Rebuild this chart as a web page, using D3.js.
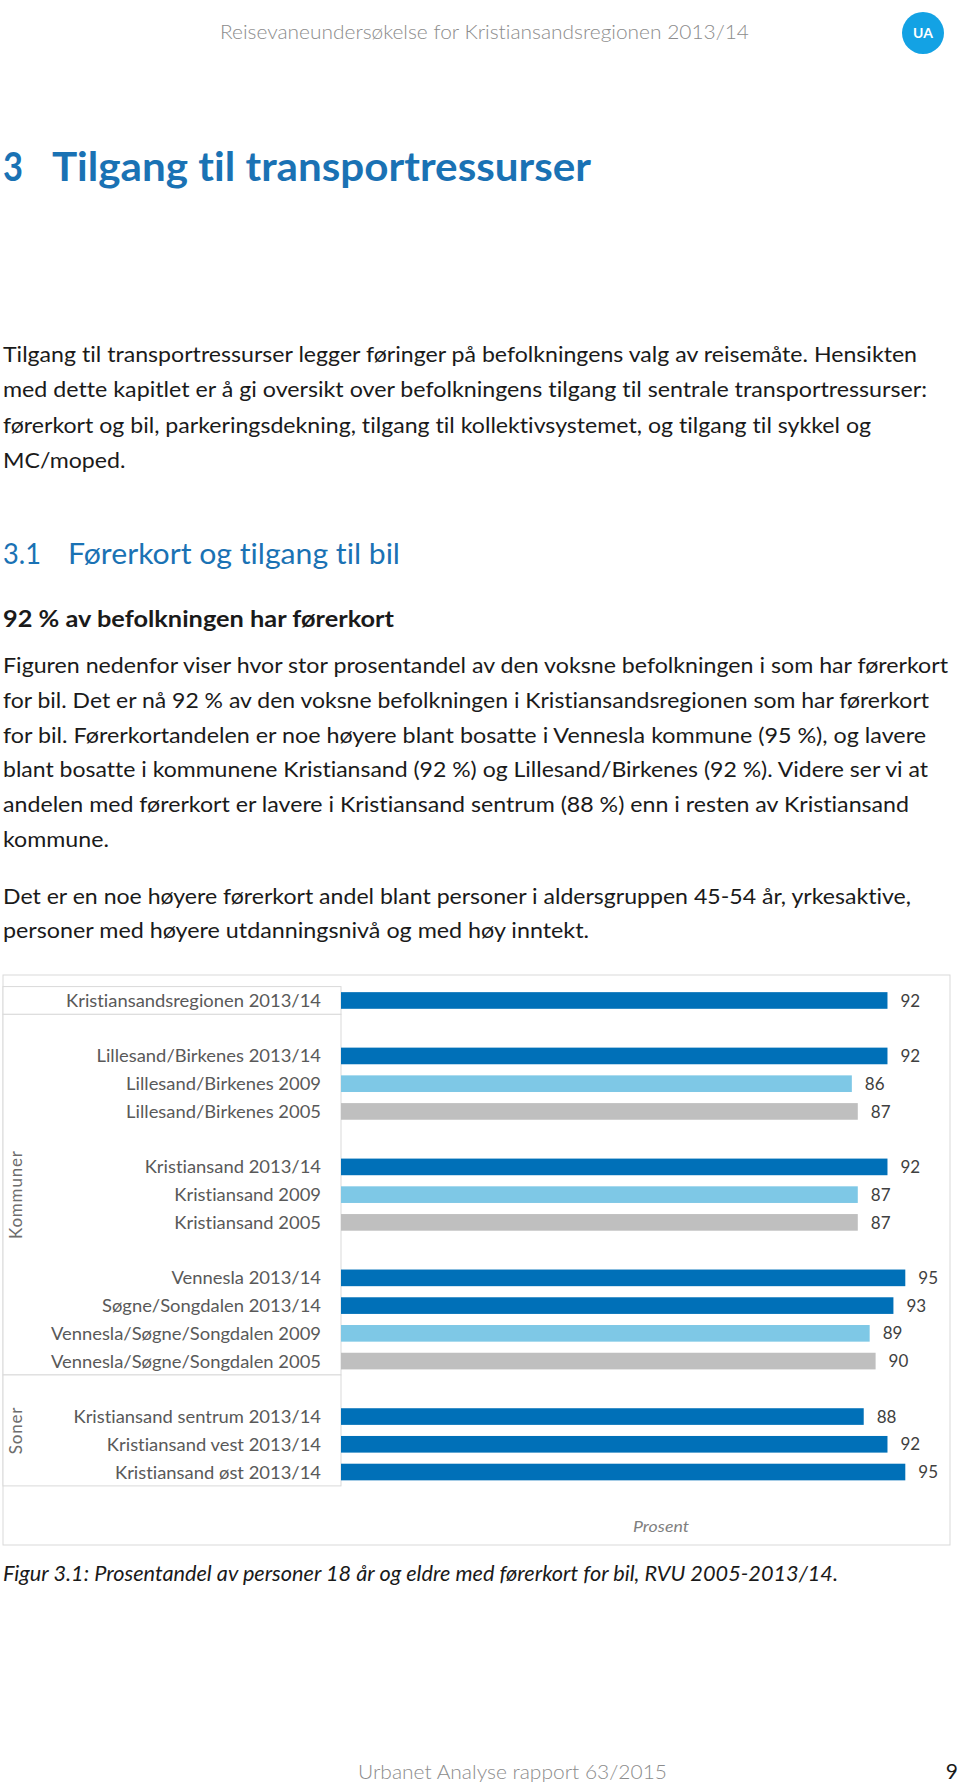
<!DOCTYPE html>
<html><head><meta charset="utf-8">
<script src="https://cdn.jsdelivr.net/npm/d3@7"></script>
<style>
body{margin:0;background:#fff}
svg{display:block}
text{font-family:Lato,"Open Sans",sans-serif;font-variant-ligatures:none;font-feature-settings:"liga" 0,"clig" 0}
</style>
</head><body>
<svg id="page" width="960" height="1785"></svg>
<script>
// ---------- data ----------
const categories = [
  "Kristiansandsregionen 2013/14",
  "Lillesand/Birkenes 2013/14",
  "Lillesand/Birkenes 2009",
  "Lillesand/Birkenes 2005",
  "Kristiansand 2013/14",
  "Kristiansand 2009",
  "Kristiansand 2005",
  "Vennesla 2013/14",
  "Søgne/Songdalen 2013/14",
  "Vennesla/Søgne/Songdalen 2009",
  "Vennesla/Søgne/Songdalen 2005",
  "Kristiansand sentrum 2013/14",
  "Kristiansand vest 2013/14",
  "Kristiansand øst 2013/14"
];
const values = [92, 92, 86, 87, 92, 87, 87, 95, 93, 89, 90, 88, 92, 95];
const years = ["2013/14","2013/14","2009","2005","2013/14","2009","2005","2013/14","2013/14","2009","2005","2013/14","2013/14","2013/14"];
const groupIds = [0, 1, 1, 1, 2, 2, 2, 3, 3, 3, 3, 4, 4, 4];
const sectionOfGroup = [0, 1, 1, 1, 2];
const sectionNames = ["", "Kommuner", "Soner"];
const yearKeys = ["2013/14", "2009", "2005"];
const yearColors = ["#0070b8", "#7ec8e6", "#bfbfbf"];
const axisTitle = "Prosent";

const headerText = "Reisevaneundersøkelse for Kristiansandsregionen 2013/14";
const chapterNo = "3";
const chapterTitle = "Tilgang til transportressurser";
const para1 = [
  "Tilgang til transportressurser legger føringer på befolkningens valg av reisemåte. Hensikten",
  "med dette kapitlet er å gi oversikt over befolkningens tilgang til sentrale transportressurser:",
  "førerkort og bil, parkeringsdekning, tilgang til kollektivsystemet, og tilgang til sykkel og",
  "MC/moped."
];
const sectionNo = "3.1";
const sectionTitle = "Førerkort og tilgang til bil";
const subHeading = "92 % av befolkningen har førerkort";
const para2 = [
  "Figuren nedenfor viser hvor stor prosentandel av den voksne befolkningen i som har førerkort",
  "for bil. Det er nå 92 % av den voksne befolkningen i Kristiansandsregionen som har førerkort",
  "for bil. Førerkortandelen er noe høyere blant bosatte i Vennesla kommune (95 %), og lavere",
  "blant bosatte i kommunene Kristiansand (92 %) og Lillesand/Birkenes (92 %). Videre ser vi at",
  "andelen med førerkort er lavere i Kristiansand sentrum (88 %) enn i resten av Kristiansand",
  "kommune."
];
const para3 = [
  "Det er en noe høyere førerkort andel blant personer i aldersgruppen 45-54 år, yrkesaktive,",
  "personer med høyere utdanningsnivå og med høy inntekt."
];
const captionText = "Figur 3.1: Prosentandel av personer 18 år og eldre med førerkort for bil, RVU 2005-2013/14.";
const footerText = "Urbanet Analyse rapport 63/2015";
const pageNo = "9";

// ---------- helpers ----------
const svg = d3.select("#page");
svg.append("rect").attr("width", 960).attr("height", 1785).attr("fill", "#fff");

function fit(sel, w) {
  if (w) sel.attr("textLength", w).attr("lengthAdjust", "spacingAndGlyphs");
  return sel;
}
function para(lines, x, y0, step, size, targets, opts = {}) {
  const nodes = lines.map((l, i) => svg.append("text")
    .attr("x", x).attr("y", y0 + i * step)
    .attr("font-size", size)
    .attr("fill", opts.fill || "#1a1a1a")
    .attr("font-style", opts.italic ? "italic" : null)
    .attr("font-weight", opts.weight || null)
    .text(l));
  const factors = [];
  nodes.forEach((n, i) => {
    if (targets[i]) factors.push(targets[i] / n.node().getComputedTextLength());
  });
  const f = d3.median(factors) || 1;
  nodes.forEach((n, i) => {
    const w = targets[i] || n.node().getComputedTextLength() * f;
    fit(n, w);
  });
  return nodes;
}

// ---------- page text ----------
fit(svg.append("text").attr("x", 220).attr("y", 39).attr("font-size", 20.5).attr("font-weight", 300)
  .attr("fill", "#8c8c8c").text(headerText), 529);

svg.append("circle").attr("cx", 923).attr("cy", 33).attr("r", 21).attr("fill", "#13a2e4");
svg.append("text").attr("x", 923).attr("y", 38).attr("text-anchor", "middle").attr("font-size", 14)
  .attr("font-weight", 700).attr("fill", "#fff").text("UA");

svg.append("text").attr("x", 3).attr("y", 181).attr("font-size", 40).attr("font-weight", 700)
  .attr("fill", "#1a72b4").attr("textLength", 20).attr("lengthAdjust", "spacingAndGlyphs").text(chapterNo);
fit(svg.append("text").attr("x", 52).attr("y", 181).attr("font-size", 40).attr("font-weight", 700)
  .attr("fill", "#1a72b4").text(chapterTitle), 539);

para(para1, 3, 362, 35.3, 21.5, [914, 924, 868, null]);

svg.append("text").attr("x", 3).attr("y", 564).attr("font-size", 28)
  .attr("fill", "#1a72b4").attr("textLength", 38).attr("lengthAdjust", "spacingAndGlyphs").text(sectionNo);
fit(svg.append("text").attr("x", 68).attr("y", 564).attr("font-size", 28)
  .attr("fill", "#1a72b4").text(sectionTitle), 332);

fit(svg.append("text").attr("x", 3).attr("y", 627).attr("font-size", 23).attr("font-weight", 700)
  .attr("fill", "#1a1a1a").text(subHeading), 391);

para(para2, 3, 673, 34.8, 21.5, [945, 926, 923, 925, 906, null]);
para(para3, 3, 903.5, 34.8, 21.5, [908, 586]);

// ---------- chart ----------
svg.append("rect").attr("x", 3).attr("y", 975).attr("width", 947).attr("height", 570)
  .attr("fill", "#fff").attr("stroke", "#d9d9d9").attr("stroke-width", 1);

const slots = [];
const slotOf = [];
categories.forEach((c, i) => {
  if (i > 0 && groupIds[i] !== groupIds[i - 1]) slots.push("gap" + i);
  slotOf.push(slots.length);
  slots.push(c);
});

const y = d3.scaleBand().domain(slots).range([986.6, 1485.9]).paddingInner(0.4).paddingOuter(0.2);
const x = d3.scaleLinear().domain([0, 100]).range([341, 935]);
const color = d3.scaleOrdinal().domain(yearKeys).range(yearColors);
const step = y.step();
const halfPad = step * 0.2;

// label panel sections
const sections = sectionNames.map((name, s) => {
  const idx = categories.map((c, i) => i).filter(i => sectionOfGroup[groupIds[i]] === s);
  let first = slotOf[idx[0]];
  if (s > 0) first -= 1; // include preceding gap
  const last = slotOf[idx[idx.length - 1]];
  const top = y(slots[first]) - halfPad;
  const bottom = y(slots[last]) + y.bandwidth() + halfPad;
  return { name, top, bottom };
});

svg.append("g").selectAll("rect").data(sections).join("rect")
  .attr("x", 3).attr("y", d => d.top).attr("width", 338).attr("height", d => d.bottom - d.top)
  .attr("fill", "#fff").attr("stroke", "#d9d9d9").attr("stroke-width", 1);

svg.append("g").selectAll("text").data(sections.filter(d => d.name)).join("text")
  .attr("transform", d => `translate(22,${(d.top + d.bottom) / 2}) rotate(-90)`)
  .attr("text-anchor", "middle")
  .attr("font-family", "'Open Sans', sans-serif")
  .attr("font-size", 17).attr("fill", "#6d6d6d").attr("letter-spacing", 0.8)
  .text(d => d.name);

// bars
svg.append("g").selectAll("rect").data(categories).join("rect")
  .attr("x", x(0))
  .attr("y", (c, i) => y(c))
  .attr("width", (c, i) => x(values[i]) - x(0))
  .attr("height", y.bandwidth())
  .attr("fill", (c, i) => color(years[i]));

// category labels
const catLabels = svg.append("g").selectAll("text").data(categories).join("text")
  .attr("x", 321).attr("y", c => y(c) + y.bandwidth() / 2).attr("dy", "0.36em")
  .attr("text-anchor", "end").attr("font-size", 18).attr("fill", "#595959")
  .text(c => c);
const refW = catLabels.filter((c, i) => i === 0).node().getComputedTextLength();
const catFactor = 255 / refW;
catLabels.each(function () {
  const w = this.getComputedTextLength();
  d3.select(this).attr("textLength", w * catFactor).attr("lengthAdjust", "spacingAndGlyphs");
});

// value labels
svg.append("g").selectAll("text").data(categories).join("text")
  .attr("x", (c, i) => x(values[i]) + 13)
  .attr("y", c => y(c) + y.bandwidth() / 2).attr("dy", "0.36em")
  .attr("font-size", 17).attr("fill", "#404040")
  .text((c, i) => d3.format("d")(values[i]));

// axis title
fit(svg.append("text").attr("x", 661).attr("y", 1532).attr("text-anchor", "middle")
  .attr("font-size", 16).attr("font-style", "italic").attr("fill", "#7f7f7f").text(axisTitle), 56);

// caption
fit(svg.append("text").attr("x", 3).attr("y", 1581).attr("font-size", 21).attr("font-style", "italic")
  .attr("fill", "#1a1a1a").text(captionText), 835);

// footer
fit(svg.append("text").attr("x", 358).attr("y", 1779).attr("font-size", 20.5).attr("font-weight", 300)
  .attr("fill", "#8c8c8c").text(footerText), 309);
svg.append("text").attr("x", 958).attr("y", 1779).attr("text-anchor", "end").attr("font-size", 21)
  .attr("fill", "#1a1a1a").text(pageNo);
</script>
</body></html>
